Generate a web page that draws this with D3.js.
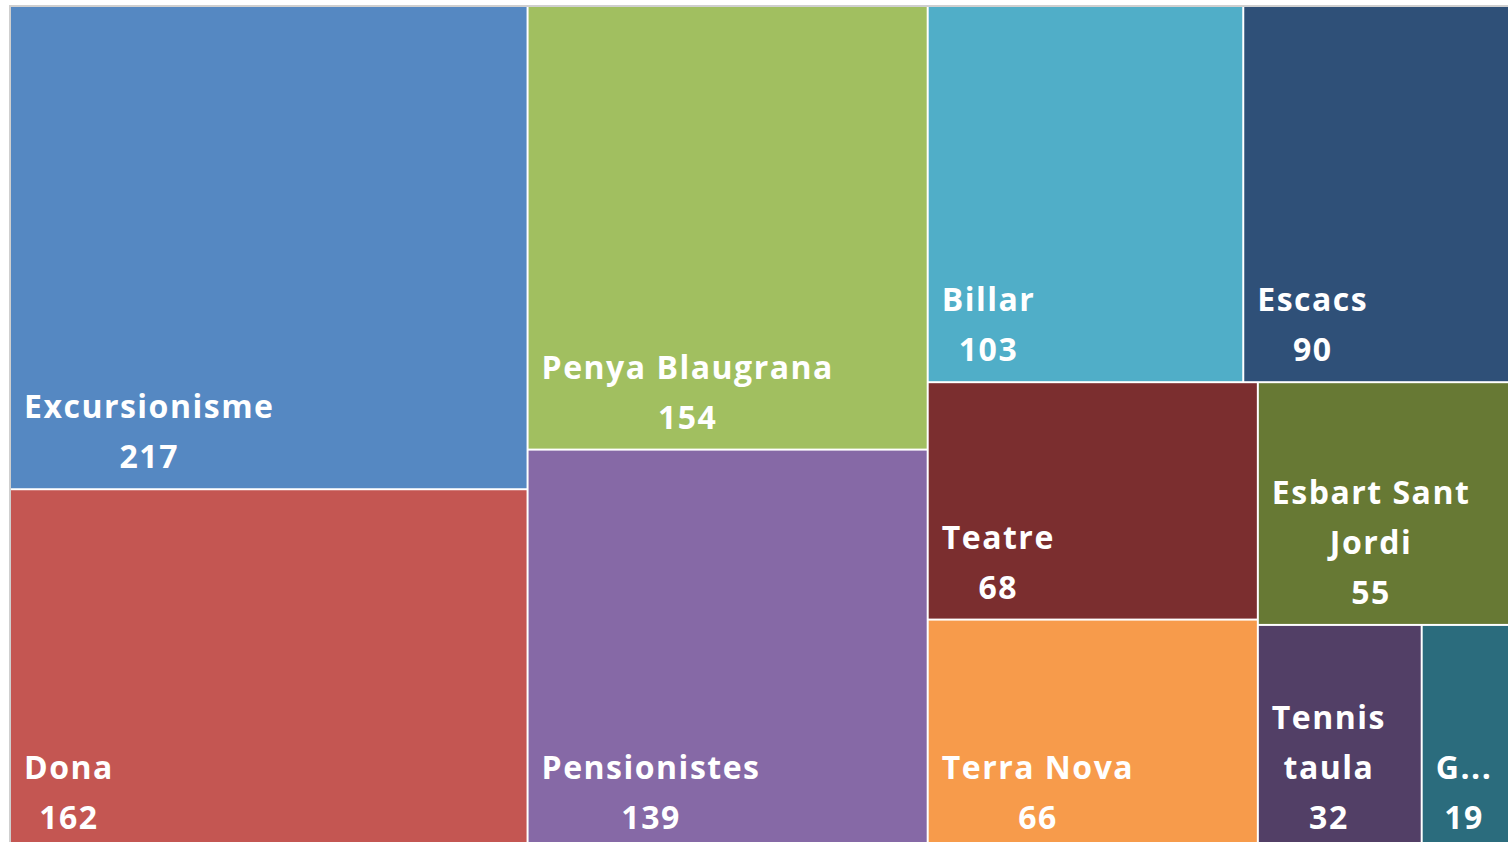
<!DOCTYPE html>
<html>
<head>
<meta charset="utf-8">
<script src="https://cdn.jsdelivr.net/npm/d3@7"></script>
<style>
  body { margin: 0; background: #fff; overflow: hidden; }
  .tileText { fill: #fff; font-family: "Open Sans", "Noto Sans", sans-serif; font-weight: 700; font-size: 32px; letter-spacing: 1.5px; }
</style>
</head>
<body>
<div id="treemap"></div>
<script>
// Define SVG area dimensions
var svgWidth = 1508;
var svgHeight = 842;

// Data
var groups = ["Excursionisme", "Dona", "Penya Blaugrana", "Pensionistes", "Billar", "Escacs",
  "Teatre", "Terra Nova", "Esbart Sant Jordi", "Tennis taula", "G..."];
var members = [217, 162, 154, 139, 103, 90, 68, 66, 55, 32, 19];
var colors = ["#5588c2", "#c45652", "#a1bf60", "#8669a6", "#50aec8", "#2f5078",
  "#7b2e2f", "#f79b4b", "#677934", "#523f66", "#2b6c7d"];

// Chart area (runs off the right and bottom edge like the reference)
var area = { x0: 11, y0: 7, x1: 1518, y1: 849 };

var svg = d3.select("#treemap")
  .append("svg")
  .attr("width", svgWidth)
  .attr("height", svgHeight);

// grey frame
svg.append("rect")
  .attr("x", area.x0 - 1)
  .attr("y", area.y0 - 1)
  .attr("width", area.x1 - area.x0 + 2)
  .attr("height", area.y1 - area.y0 + 2)
  .attr("fill", "none")
  .attr("stroke", "#cfcfcf")
  .attr("stroke-width", 2);

var tableData = groups.map((g, i) => ({ name: g, value: members[i], color: colors[i] }));

var root = d3.hierarchy({ children: tableData })
  .sum(d => d.value || 0);

d3.treemap()
  .tile(d3.treemapSquarify.ratio(1))
  .size([area.x1 - area.x0, area.y1 - area.y0])
  .paddingInner(2)(root);

var chartGroup = svg.append("g")
  .attr("transform", `translate(${area.x0}, ${area.y0})`);

var cells = chartGroup.selectAll("g.cell")
  .data(root.leaves())
  .enter()
  .append("g")
  .attr("class", "cell")
  .attr("transform", d => `translate(${d.x0}, ${d.y0})`);

cells.append("rect")
  .attr("width", d => d.x1 - d.x0)
  .attr("height", d => d.y1 - d.y0)
  .attr("fill", d => d.data.color);

var padX = 13, lineH = 50, padBottom = 20;

cells.each(function (d) {
  var g = d3.select(this);
  var w = d.x1 - d.x0, h = d.y1 - d.y0;
  var maxW = w - 2 * padX;
  var text = g.append("text").attr("class", "tileText").attr("text-anchor", "middle");
  var measure = text.append("tspan");
  var widthOf = s => { measure.text(s); return measure.node().getComputedTextLength(); };

  // wrap words into lines, shorten what still does not fit
  var words = d.data.name.split(" "), lines = [], cur = "";
  words.forEach(word => {
    var test = cur ? cur + " " + word : word;
    if (widthOf(test) <= maxW || !cur) cur = test;
    else { lines.push(cur); cur = word; }
  });
  lines.push(cur);
  lines = lines.map(l => {
    if (widthOf(l) <= maxW) return l;
    var s = l;
    while (s.length > 1 && widthOf(s + "...") > maxW) s = s.slice(0, -1);
    return s + "...";
  });
  lines.push(String(d.data.value));

  var blockW = d3.max(lines, l => widthOf(l));
  measure.remove();
  var cx = padX + blockW / 2;
  var lastY = h - padBottom;
  lines.forEach((l, i) => {
    text.append("tspan")
      .attr("x", cx)
      .attr("y", lastY - (lines.length - 1 - i) * lineH)
      .text(l);
  });
});
</script>
</body>
</html>
